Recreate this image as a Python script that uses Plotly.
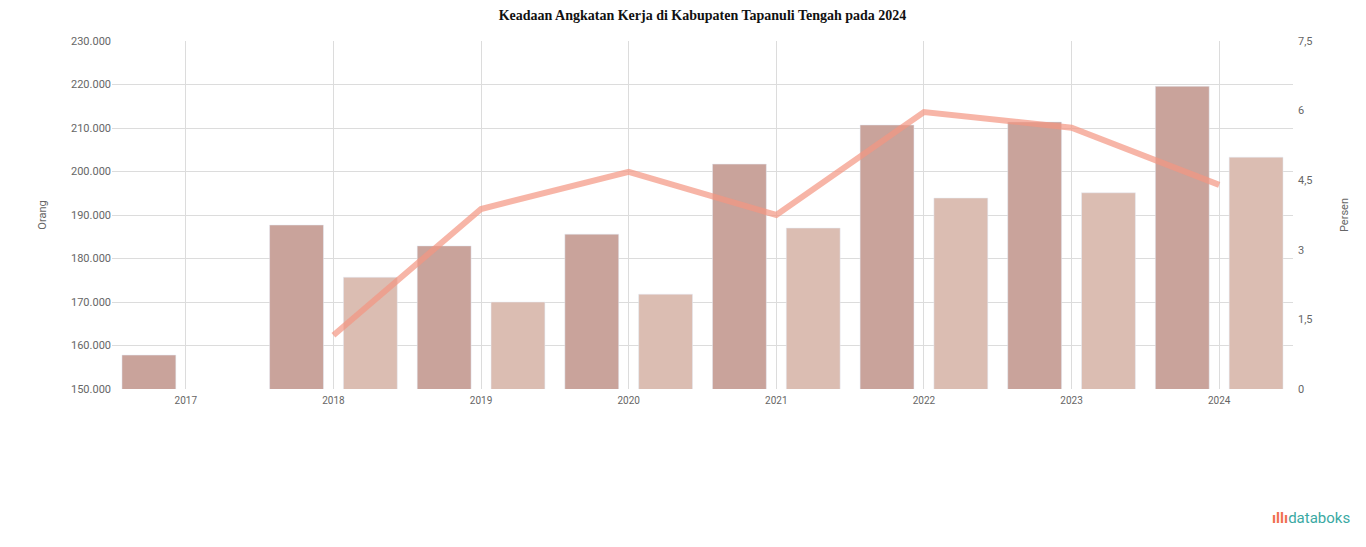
import plotly.graph_objects as go

years = ["2017", "2018", "2019", "2020", "2021", "2022", "2023", "2024"]
angkatan_kerja = [157800, 187700, 182900, 185600, 201700, 210700, 211400, 219600]
bekerja = [None, 175700, 170000, 171800, 187000, 193900, 195100, 203300]
persen = [None, 1.16, 3.88, 4.68, 3.75, 5.97, 5.63, 4.40]

left_ticks = [150000, 160000, 170000, 180000, 190000, 200000, 210000, 220000, 230000]
right_ticks = [0, 1.5, 3, 4.5, 6, 7.5]

fig = go.Figure()
fig.add_trace(go.Bar(x=years, y=angkatan_kerja, name="Angkatan Kerja",
                     marker=dict(color="#c9a39b"), yaxis="y"))
fig.add_trace(go.Bar(x=years, y=bekerja, name="Bekerja",
                     marker=dict(color="#dbbdb2"), yaxis="y"))
fig.add_trace(go.Scatter(x=years, y=persen, name="Persen", mode="lines",
                         line=dict(color="rgba(244,150,130,0.7)", width=6),
                         yaxis="y2"))

fig.update_layout(
    width=1366, height=547,
    paper_bgcolor="white", plot_bgcolor="white",
    margin=dict(l=104, r=81, t=33, b=166),
    showlegend=False,
    barmode="group", bargap=0.0, bargroupgap=0.27,
    title=dict(text="<b>Keadaan Angkatan Kerja di Kabupaten Tapanuli Tengah pada 2024</b>",
               x=0.5, xanchor="center", xref="paper", y=1 - 2 / 547, yanchor="top",
               font=dict(family="Liberation Serif", size=14, color="#111")),
    font=dict(family="Roboto", size=10, color="#666"),
    xaxis=dict(showgrid=True, gridcolor="#dcdcdc", gridwidth=1,
               tickfont=dict(size=10, color="#666"), ticks="", showline=False,
               ticklabelstandoff=4),
    yaxis=dict(range=[150000, 230000], tickvals=left_ticks,
               tickformat=",", showgrid=True, gridcolor="#dcdcdc",
               zeroline=False, ticks="",
               title=dict(text="Orang", font=dict(size=11, color="#666"), standoff=22),
               tickfont=dict(size=11, color="#666")),
    yaxis2=dict(range=[0, 7.5], tickvals=right_ticks, overlaying="y", side="right",
                showgrid=False, zeroline=False, ticks="",
                title=dict(text="Persen", font=dict(size=11, color="#666"), standoff=28),
                tickfont=dict(size=11, color="#666"), ticklabelstandoff=4),
    separators=",.",
)

fig.add_annotation(xref="paper", yref="paper", x=1.0, y=-0.37, xanchor="right", yanchor="middle",
                   text="<span style='color:#f0704f'><b>ıllı</b></span><span style='color:#3aa9a3'>databoks</span>",
                   showarrow=False, xshift=59, font=dict(family="Roboto", size=15))

fig.write_html("out.html")
